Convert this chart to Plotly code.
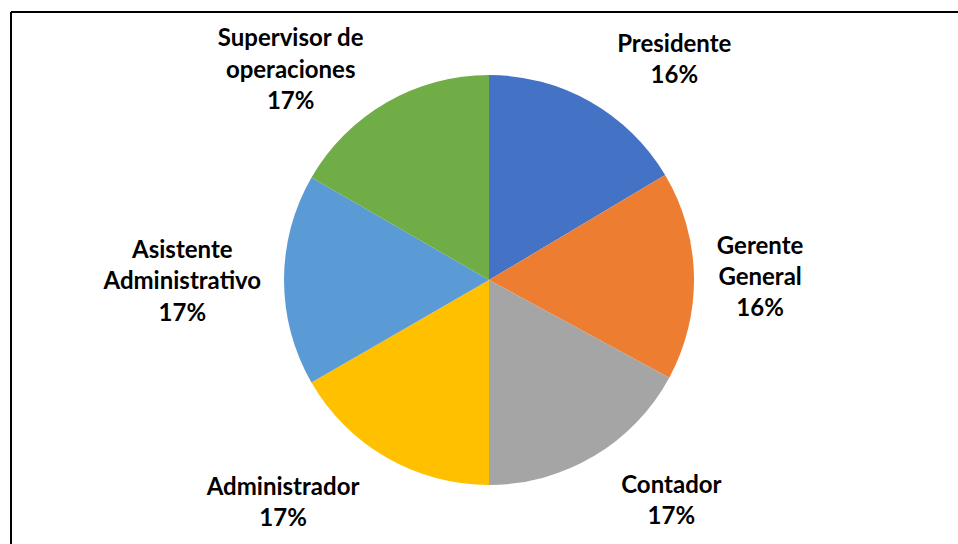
import plotly.graph_objects as go

labels = ["Presidente", "Gerente<br>General", "Contador", "Administrador",
          "Asistente<br>Administrativo", "Supervisor de<br>operaciones"]
values = [16.45, 16.45, 17.1, 16.67, 16.67, 16.66]
colors = ["#4472C4", "#ED7D31", "#A5A5A5", "#FFC000", "#5B9BD5", "#70AD47"]
# which labels sit on the outer (farther) label ring
far_label = [True, False, True, True, False, False]

W, H = 958, 544
cx, cy, r = 489, 280, 205
r_far = 229

def dom(rad):
    return dict(x=[(cx - rad) / W, (cx + rad) / W],
                y=[(H - cy - rad) / H, (H - cy + rad) / H])

font = dict(family="Lato, Carlito, Calibri, sans-serif", size=24, color="#000000")
tmpl = "<b>%{label}<br>%{percent:.0%}</b>"

fig = go.Figure()
# label ring for the farther labels (transparent slices)
fig.add_trace(go.Pie(
    labels=labels, values=values, sort=False, direction="clockwise", rotation=0,
    marker=dict(colors=["rgba(0,0,0,0)"] * len(values), line=dict(width=0)),
    texttemplate=tmpl,
    textposition=["outside" if f else "none" for f in far_label],
    textfont=font, showlegend=False, hoverinfo="skip",
    domain=dom(r_far), automargin=False,
))
# visible pie
fig.add_trace(go.Pie(
    labels=labels, values=values, sort=False, direction="clockwise", rotation=0,
    marker=dict(colors=colors, line=dict(width=0)),
    texttemplate=tmpl,
    textposition=["none" if f else "outside" for f in far_label],
    textfont=font, showlegend=False, hoverinfo="label+percent",
    domain=dom(r), automargin=False,
))

fig.update_layout(
    width=W, height=H,
    margin=dict(l=0, r=0, t=0, b=0),
    paper_bgcolor="white",
    plot_bgcolor="white",
    shapes=[
        dict(type="line", xref="paper", yref="paper",
             x0=11 / W, x1=1, y0=1 - 12 / H, y1=1 - 12 / H,
             line=dict(color="black", width=2)),
        dict(type="line", xref="paper", yref="paper",
             x0=11 / W, x1=11 / W, y0=0, y1=1 - 12 / H,
             line=dict(color="black", width=2)),
    ],
)

fig.write_html("out.html", config={"displayModeBar": False},
               post_script="document.body.style.margin='0';document.body.style.overflow='hidden';")
